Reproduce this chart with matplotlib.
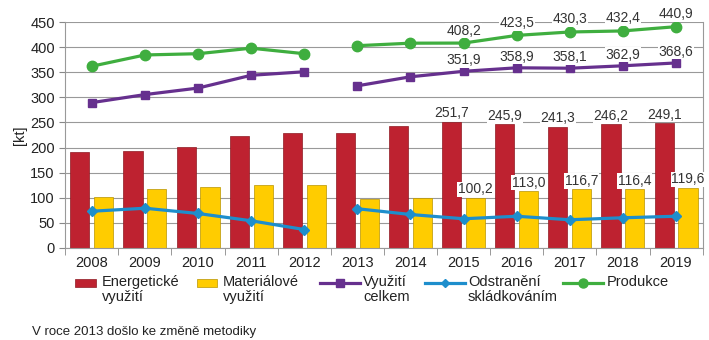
import matplotlib.pyplot as plt
import numpy as np

plt.rcParams['font.family'] = ['Liberation Sans', 'DejaVu Sans']

years = ['2008', '2009', '2010', '2011', '2012', '2013', '2014',
         '2015', '2016', '2017', '2018', '2019']
energeticke = [191.5, 193.0, 201.5, 222.0, 229.5, 228.0, 243.5,
               251.7, 245.9, 241.3, 246.2, 249.1]
materialove = [101.0, 117.0, 120.5, 124.5, 124.5, 96.5, 99.0,
               100.2, 113.0, 116.7, 116.4, 119.6]
vyuziti = [289.5, 305.5, 318.5, 344.0, 351.0, 323.0, 341.0,
           351.9, 358.9, 358.1, 362.9, 368.6]
skladkovani = [73.0, 79.0, 68.5, 54.0, 36.5, 78.0, 66.5,
               58.0, 63.0, 56.0, 60.0, 63.0]
produkce = [362.0, 384.5, 387.0, 398.0, 387.0, 403.0, 408.0,
            408.2, 423.5, 430.3, 432.4, 440.9]
legend_labels = ['Energetické\nvyužití', 'Materiálové\nvyužití', 'Využití\ncelkem',
                 'Odstranění\nskládkováním', 'Produkce']

red = '#BE2230'
yellow = '#FFCC00'
purple = '#66308E'
blue = '#1E8ECC'
green = '#3FAE3F'
txt = '#222222'

x = np.arange(len(years))
fig = plt.figure(figsize=(7.09, 3.40), dpi=100)
ax = fig.add_axes([0.092, 0.271, 0.899, 0.664])

w = 0.36
ax.bar(x - 0.225, energeticke, w, color=red, edgecolor='#8E1A22', linewidth=0.5, zorder=2)
ax.bar(x + 0.225, materialove, w, color=yellow, edgecolor='#B89400', linewidth=0.5, zorder=2)

# break in the lines: methodology changed in 2013
for sl in (slice(0, 5), slice(5, 12)):
    ax.plot(x[sl], vyuziti[sl], color=purple, lw=2.3, marker='s', ms=6, zorder=3)
    ax.plot(x[sl], skladkovani[sl], color=blue, lw=2.3, marker='D', ms=5, zorder=3)
    ax.plot(x[sl], produkce[sl], color=green, lw=2.3, marker='o', ms=7.5, zorder=3)

def fmt(v):
    return ('%.1f' % v).replace('.', ',')

box = dict(facecolor='white', edgecolor='none', pad=0.5)
for i in range(7, 12):
    ax.annotate(fmt(energeticke[i]), (x[i] - 0.225, energeticke[i]), xytext=(0, 1),
                textcoords='offset points', ha='center', va='bottom', fontsize=10,
                color='#333333', bbox=box, zorder=4)
    ax.annotate(fmt(materialove[i]), (x[i] + 0.225, materialove[i]), xytext=(0, 1),
                textcoords='offset points', ha='center', va='bottom', fontsize=10,
                color='#333333', bbox=box, zorder=4)
    ax.annotate(fmt(vyuziti[i]), (x[i], vyuziti[i]), xytext=(0, 3),
                textcoords='offset points', ha='center', va='bottom', fontsize=10,
                color='#333333', bbox=box, zorder=4)
    ax.annotate(fmt(produkce[i]), (x[i], produkce[i]), xytext=(0, 4),
                textcoords='offset points', ha='center', va='bottom', fontsize=10,
                color='#333333', bbox=box, zorder=4, annotation_clip=False)

ax.set_xlim(-0.5, 11.5)
ax.set_ylim(0, 450)
ax.set_yticks(np.arange(0, 451, 50))
ax.set_xticks(x)
ax.set_xticklabels(years)
ax.set_xticks(np.arange(-0.5, 12, 1), minor=True)
ax.tick_params(axis='x', which='major', length=0, labelsize=10.5, colors=txt, pad=6)
ax.tick_params(axis='x', which='minor', length=5, color='#888888')
ax.tick_params(axis='y', length=4, color='#888888', labelsize=10.5, labelcolor=txt)
ax.grid(axis='y', color='#999999', lw=0.8, zorder=0)
ax.set_axisbelow(True)
ax.spines['top'].set_visible(False)
for s in ('left', 'bottom', 'right'):
    ax.spines[s].set_color('#999999')
ax.set_ylabel('[kt]', fontsize=10.5, color=txt, labelpad=2)

# legend drawn by hand so the handles sit on the first text line
lax = fig.add_axes([0, 0, 1, 1])
lax.set_xlim(0, 709)
lax.set_ylim(340, 0)
lax.axis('off')
hy = 283
lax.add_patch(plt.Rectangle((75, 279), 21, 8, facecolor=red, edgecolor='#8E1A22', lw=0.5))
lax.add_patch(plt.Rectangle((197, 279), 20, 8, facecolor=yellow, edgecolor='#B89400', lw=0.5))
lax.plot([320, 360], [hy, hy], color=purple, lw=2.3)
lax.plot([340], [hy], color=purple, marker='s', ms=6)
lax.plot([425, 465], [hy, hy], color=blue, lw=2.3)
lax.plot([445], [hy], color=blue, marker='D', ms=4)
lax.plot([563, 603], [hy, hy], color=green, lw=2.3)
lax.plot([583], [hy], color=green, marker='o', ms=6.5)
for tx, lab in zip([102, 223, 363, 468, 607], legend_labels):
    lax.text(tx, 275, lab, fontsize=10.5, color=txt, ha='left', va='top', linespacing=1.05)

fig.text(0.045, 0.015, 'V roce 2013 došlo ke změně metodiky', fontsize=9.5, color=txt,
         va='baseline')

fig.savefig('out.png', dpi=100)
